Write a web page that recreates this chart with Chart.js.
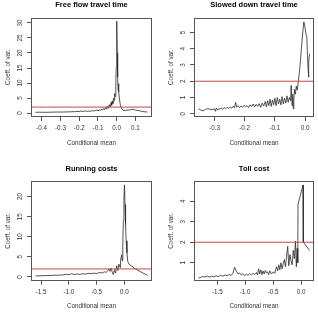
<!DOCTYPE html>
<html>
<head>
<meta charset="utf-8">
<script src="https://cdn.jsdelivr.net/npm/chart.js@4.4.1/dist/chart.umd.min.js"></script>
<style>
  html, body { margin: 0; padding: 0; background: #fff; overflow: hidden; }
  #wrap { position: relative; width: 318px; height: 313px; overflow: hidden; background: #fff; }
  canvas { position: absolute; }
</style>
</head>
<body>
<div id="wrap">
  <canvas id="c1" width="163" height="156" style="left:0px;top:0px"></canvas>
  <canvas id="c2" width="155" height="156" style="left:163px;top:0px"></canvas>
  <canvas id="c3" width="163" height="149" style="left:0px;top:164px"></canvas>
  <canvas id="c4" width="155" height="149" style="left:163px;top:164px"></canvas>
</div>
<script>
// ---- data ----
const panelTitles = ['Free flow travel time', 'Slowed down travel time', 'Running costs', 'Toll cost'];
const xAxisTitle = 'Conditional mean';
const yAxisTitle = 'Coeff. of var.';
const threshold = 2;

const ffX = [-0.433,-0.41,-0.38,-0.35,-0.32,-0.29,-0.26,-0.24,-0.22,-0.2,-0.19,-0.18,-0.17,-0.16,-0.15,-0.14,-0.13,-0.12,-0.11,-0.10,-0.09,-0.085,-0.08,-0.075,-0.07,-0.065,-0.06,-0.055,-0.05,-0.045,-0.04,-0.035,-0.03,-0.027,-0.024,-0.02,-0.017,-0.014,-0.011,-0.008,-0.005,-0.003,-0.001,0.001,0.003,0.005,0.007,0.009,0.012,0.016,0.02,0.026,0.033,0.045,0.06,0.075,0.087,0.1,0.12,0.14,0.164];
const ffY = [0.25,0.3,0.25,0.3,0.35,0.35,0.4,0.45,0.5,0.55,0.7,0.5,0.75,0.6,0.65,0.6,0.8,0.7,1.0,0.8,1.1,0.9,1.3,1.0,1.5,1.1,1.8,1.3,2.2,1.6,2.8,2.0,3.5,2.6,4.0,3.2,5.0,4.2,6.5,5.5,9,15,22,30.6,20,12,8,9.8,7,4,2.5,1.5,0.9,0.9,1.0,1.1,1.3,1.0,0.8,0.5,0.35];

const sdX = [-0.353,-0.345,-0.338,-0.33,-0.322,-0.315,-0.308,-0.3,-0.297,-0.294,-0.29,-0.286,-0.282,-0.278,-0.273,-0.268,-0.263,-0.258,-0.253,-0.248,-0.243,-0.238,-0.234,-0.23,-0.227,-0.222,-0.217,-0.212,-0.207,-0.202,-0.197,-0.192,-0.187,-0.182,-0.177,-0.172,-0.167,-0.162,-0.157,-0.152,-0.147,-0.142,-0.137,-0.132,-0.128,-0.124,-0.12,-0.116,-0.112,-0.108,-0.104,-0.1,-0.096,-0.092,-0.088,-0.084,-0.08,-0.076,-0.072,-0.068,-0.064,-0.06,-0.056,-0.052,-0.048,-0.046,-0.043,-0.041,-0.039,-0.037,-0.035,-0.032,-0.029,-0.026,-0.023,-0.019,-0.015,-0.011,-0.007,-0.004,-0.001,0.003,0.006,0.008,0.01,0.011,0.012,0.0125,0.013,0.015];
const sdY = [0.3,0.22,0.18,0.26,0.32,0.27,0.25,0.3,0.15,0.35,0.22,0.32,0.28,0.36,0.27,0.38,0.3,0.4,0.32,0.42,0.34,0.46,0.36,0.7,0.4,0.5,0.38,0.48,0.4,0.52,0.42,0.5,0.38,0.55,0.44,0.6,0.42,0.58,0.45,0.62,0.4,0.66,0.48,0.75,0.42,0.8,0.5,0.9,0.45,0.85,0.55,0.95,0.5,1.0,0.6,0.9,0.55,1.05,0.6,0.95,0.65,1.1,0.7,1.0,0.8,1.75,0.5,1.2,0.3,0.9,1.5,1.2,1.7,1.45,1.85,2.5,3.3,4.3,5.1,5.65,5.4,4.9,4.7,3.6,2.8,2.25,2.9,2.4,3.2,3.7];

const rcX = [-1.6,-1.5,-1.4,-1.3,-1.2,-1.1,-1.05,-1.0,-0.95,-0.9,-0.85,-0.8,-0.75,-0.7,-0.65,-0.6,-0.55,-0.5,-0.45,-0.4,-0.36,-0.33,-0.3,-0.28,-0.26,-0.24,-0.22,-0.2,-0.18,-0.16,-0.14,-0.12,-0.1,-0.08,-0.07,-0.05,-0.04,-0.03,-0.02,-0.01,0.0,0.01,0.02,0.03,0.045,0.06,0.08,0.2,0.3,0.415];
const rcY = [0.25,0.3,0.35,0.4,0.45,0.5,0.7,0.55,0.8,0.6,0.75,0.65,0.8,0.7,0.9,0.8,0.95,0.85,1.1,1.0,1.3,1.1,1.6,2.0,1.4,2.2,1.2,0.6,1.8,1.0,2.8,1.6,3.2,2.4,4.2,5.5,4.0,8,14,19,22.9,18,13,9,6,3.8,3.2,2.0,1.2,0.4];

const tcX = [-1.836,-1.8,-1.76,-1.72,-1.68,-1.64,-1.6,-1.56,-1.52,-1.48,-1.44,-1.40,-1.36,-1.32,-1.28,-1.25,-1.22,-1.19,-1.16,-1.13,-1.1,-1.07,-1.04,-1.01,-0.98,-0.95,-0.92,-0.89,-0.86,-0.83,-0.8,-0.78,-0.76,-0.74,-0.72,-0.7,-0.68,-0.66,-0.64,-0.62,-0.6,-0.58,-0.56,-0.53,-0.5,-0.47,-0.44,-0.42,-0.4,-0.38,-0.36,-0.34,-0.32,-0.3,-0.28,-0.26,-0.24,-0.22,-0.2,-0.18,-0.16,-0.14,-0.12,-0.1,-0.085,-0.07,-0.06,-0.055,0.035,0.04,0.152];
const tcY = [0.25,0.28,0.32,0.3,0.35,0.3,0.34,0.31,0.36,0.32,0.38,0.34,0.4,0.36,0.42,0.38,0.48,0.78,0.6,0.45,0.5,0.4,0.46,0.36,0.44,0.38,0.46,0.4,0.48,0.42,0.52,0.4,0.7,0.45,0.65,0.42,0.6,0.45,0.62,0.5,0.55,0.42,0.6,0.45,0.55,0.48,0.8,0.6,0.9,0.65,1.0,0.7,0.95,1.15,0.8,1.3,1.8,0.85,1.4,1.1,0.9,1.6,1.2,2.05,0.8,1.7,1.0,3.85,4.8,2.0,1.6];

// axis ranges (R style, 4% extension) and tick steps
const xMins = [-0.457, -0.368, -1.68, -1.916];
const xMaxs = [0.188, 0.0297, 0.495, 0.231];
const yMins = [-1.3, -0.2, -0.93, 0.12];
const yMaxs = [31.8, 5.92, 23.8, 4.98];
const xSteps = [0.1, 0.1, 0.5, 0.5];
const ySteps = [5, 1, 5, 1];

const seriesX = [ffX, sdX, rcX, tcX];
const seriesY = [ffY, sdY, rcY, tcY];

// ---- layout of each panel (canvas-relative plot box) ----
const boxes = [
  {L: 31, R: 152, T: 17.5, B: 117},
  {L: 31, R: 151, T: 17.5, B: 117},
  {L: 31, R: 152, T: 17.3, B: 116.7},
  {L: 31, R: 151, T: 17.3, B: 116.7}
];

const FONT = "'Liberation Sans', Arial, Helvetica, sans-serif";
const FS = 6.3;
const TICKLEN = 4;

function textWidth(s) {
  const c = document.createElement('canvas').getContext('2d');
  c.font = FS + 'px ' + FONT;
  return c.measureText(s).width;
}

const boxPlugin = {
  id: 'rbox',
  afterDraw(chart) {
    const a = chart.chartArea;
    const ctx = chart.ctx;
    ctx.save();
    ctx.strokeStyle = '#555';
    ctx.lineWidth = 1;
    const l = Math.round(a.left) + 0.5, t = Math.round(a.top) + 0.5;
    const r = Math.round(a.right) - 0.5, b = Math.round(a.bottom) - 0.5;
    ctx.strokeRect(l, t, r - l, b - t);
    ctx.restore();
  }
};

function makeChart(i) {
  const canvas = document.getElementById('c' + (i + 1));
  const W = canvas.width, H = canvas.height;
  const bx = boxes[i];
  const pts = seriesX[i].map((x, k) => ({x: x, y: seriesY[i][k]}));
  const yLabels = [];
  for (let v = Math.ceil(yMins[i] / ySteps[i]) * ySteps[i]; v <= yMaxs[i]; v += ySteps[i]) yLabels.push(String(Math.round(v)));
  const widest = Math.max(...yLabels.map(textWidth));
  const yPad = 11 - TICKLEN - widest / 2;
  const xTitlePad = H - bx.B - 26 - FS * 1.2 / 2;
  const yTitlePad = bx.L - 23 - FS * 1.2 / 2;
  const titlePadTop = bx.T - 12.8 - 7.5 * 1.2 / 2;
  const titlePadBottom = bx.T - 7.5 * 1.2 - titlePadTop;

  return new Chart(canvas, {
    type: 'scatter',
    data: {
      datasets: [
        {
          data: [{x: xMins[i], y: threshold}, {x: xMaxs[i], y: threshold}],
          showLine: true, borderColor: '#bf4848', borderWidth: 1,
          pointRadius: 0, pointHoverRadius: 0
        },
        {
          data: pts,
          showLine: true, borderColor: '#2a2a2a', borderWidth: 0.8,
          pointRadius: 0, pointHoverRadius: 0, tension: 0
        }
      ]
    },
    options: {
      responsive: false,
      animation: false,
      devicePixelRatio: 1,
      layout: { padding: { left: 0, top: 0, right: W - bx.R, bottom: 0 } },
      plugins: {
        legend: { display: false },
        tooltip: { enabled: false },
        title: {
          display: true, text: panelTitles[i], fullSize: false,
          color: '#000',
          font: { family: FONT, size: 7.5, weight: 'bold', lineHeight: 1.2 },
          padding: { top: titlePadTop, bottom: titlePadBottom }
        }
      },
      scales: {
        x: {
          type: 'linear', position: 'bottom',
          min: xMins[i], max: xMaxs[i],
          grid: { display: true, drawOnChartArea: false, drawTicks: true, tickLength: TICKLEN, color: '#555' },
          border: { display: false },
          ticks: {
            stepSize: xSteps[i], includeBounds: false, autoSkip: false,
            maxRotation: 0, minRotation: 0, padding: 7.3 - TICKLEN,
            color: '#333', font: { family: FONT, size: FS },
            callback: v => (Math.round(v * 10) / 10).toFixed(1)
          },
          title: {
            display: true, text: xAxisTitle, color: '#333',
            font: { family: FONT, size: FS, lineHeight: 1.2 },
            padding: { top: 0, bottom: xTitlePad }
          },
          afterFit: s => { s.height = H - bx.B; }
        },
        y: {
          type: 'linear', position: 'left',
          min: yMins[i], max: yMaxs[i],
          grid: { display: true, drawOnChartArea: false, drawTicks: true, tickLength: TICKLEN, color: '#555' },
          border: { display: false },
          ticks: {
            stepSize: ySteps[i], includeBounds: false, autoSkip: false,
            minRotation: 90, maxRotation: 90, crossAlign: 'center', padding: yPad,
            color: '#333', font: { family: FONT, size: FS },
            callback: v => String(Math.round(v))
          },
          title: {
            display: true, text: yAxisTitle, color: '#333',
            font: { family: FONT, size: FS, lineHeight: 1.2 },
            padding: { top: yTitlePad, bottom: 0 }
          },
          afterFit: s => { s.width = bx.L; }
        }
      }
    },
    plugins: [boxPlugin]
  });
}

for (let i = 0; i < 4; i++) makeChart(i);
</script>
</body>
</html>
